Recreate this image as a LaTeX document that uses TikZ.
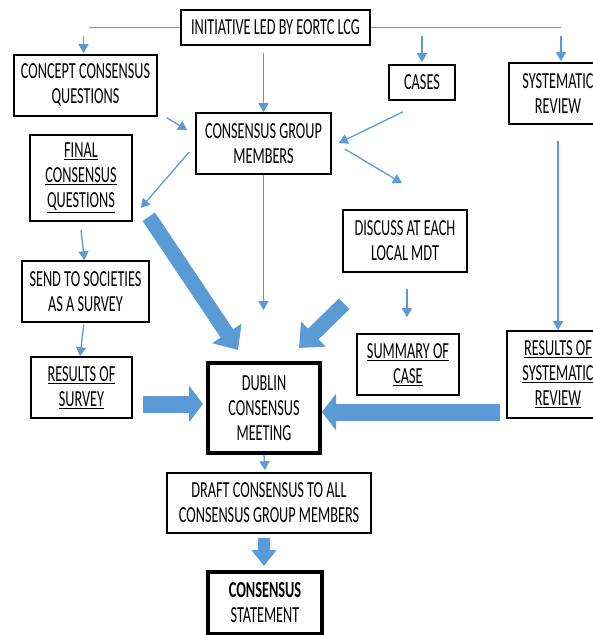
\documentclass[tikz,border=0pt]{standalone}
\usepackage{fontspec}
\setmainfont{Carlito}[FakeStretch=0.62]
\usetikzlibrary{arrows.meta,calc}
\definecolor{arrowblue}{HTML}{5B9BD5}
\begin{document}
\begin{tikzpicture}[x=1pt,y=-1pt,
 box/.style={draw, line width=1.6pt, align=center, inner sep=0pt, font=\fontsize{23}{25}\selectfont},
 heavy/.style={box, line width=4pt},
 thinarr/.style={draw=arrowblue, line width=1.3pt, -{Triangle[length=9pt,width=10pt]}},
 plainline/.style={draw=arrowblue, line width=1.3pt},
 fat/.style={draw=arrowblue, line width=15pt, -{Triangle[length=20pt,width=34pt]}},
 fath/.style={draw=arrowblue, line width=17pt, -{Triangle[length=14pt,width=36pt]}}]
\useasboundingbox (0,0) rectangle (593,635);
\clip (0,0) rectangle (593,635);
\fill[white] (0,0) rectangle (593,635);

\node[box, minimum width=189pt, minimum height=35pt] (init) at (275.5,27.5) {INITIATIVE LED BY EORTC LCG};
\node[box, minimum width=143pt, minimum height=61pt] (concept) at (85.5,85.5) {CONCEPT CONSENSUS\\QUESTIONS};
\node[box, minimum width=66pt, minimum height=35pt] (cases) at (422,82.5) {CASES};
\node[box, minimum width=98pt, minimum height=61pt] (sysrev) at (558,93.5) {SYSTEMATIC\\REVIEW};
\node[box, minimum width=135pt, minimum height=61pt] (cgm) at (263.5,143.5) {CONSENSUS GROUP\\MEMBERS};
\node[box, minimum width=102pt, minimum height=86pt] (final) at (81,178) {\underline{FINAL}\\\underline{CONSENSUS}\\\underline{QUESTIONS}};
\node[box, minimum width=124pt, minimum height=62pt] (discuss) at (405,241) {DISCUSS AT EACH\\LOCAL MDT};
\node[box, minimum width=127pt, minimum height=61pt] (send) at (85.5,291.5) {SEND TO SOCIETIES\\AS A SURVEY};
\node[box, minimum width=101pt, minimum height=61pt] (ressurv) at (81.5,387.5) {\underline{RESULTS OF}\\\underline{SURVEY}};
\node[heavy, minimum width=112pt, minimum height=90pt] (dublin) at (264,408) {DUBLIN\\CONSENSUS\\MEETING};
\node[box, minimum width=102pt, minimum height=61pt] (summary) at (408,364.5) {\underline{SUMMARY OF}\\\underline{CASE}};
\node[box, minimum width=102pt, minimum height=87pt] (ressys) at (558,374.5) {\underline{RESULTS OF}\\\underline{SYSTEMATIC}\\\underline{REVIEW}};
\node[box, minimum width=204pt, minimum height=60pt] (draft) at (269,503) {DRAFT CONSENSUS TO ALL\\CONSENSUS GROUP MEMBERS};
\node[heavy, minimum width=114pt, minimum height=62pt] (statement) at (265,603) {\textbf{CONSENSUS}\\STATEMENT};

% thin connectors
\coordinate (lcorner) at (init.west -| concept.north);
\coordinate (rcorner) at ($(init.east -| sysrev.north)+(3,0)$);
\draw[plainline] (init.west) -- ([shift={(3,0)}]lcorner);
\draw[thinarr] ([shift={(-2,8)}]lcorner) -- ([shift={(-2,-1)}]concept.north);
\draw[plainline] (init.east) -- (rcorner);
\draw[thinarr] ([shift={(0,8)}]rcorner) -- ([shift={(0,-1)}]rcorner |- sysrev.north);
\draw[thinarr] ([shift={(0,8)}]init.east -| cases.north) -- ([shift={(0,-2)}]cases.north);
\draw[thinarr, shorten <=7pt] (init.south -| cgm.north) -- (cgm.north);
\draw[thinarr] ([shift={(9,1)}]concept.south east) -- ([shift={(-8,-13.5)}]cgm.west);
\draw[thinarr] ([shift={(-19,11)}]cases.south) -- ([shift={(7,-0.5)}]cgm.east);
\draw[thinarr] ([shift={(13,5.5)}]cgm.east) -- ([shift={(-3,-26)}]discuss.north);
\draw[thinarr] ([shift={(-6,8.5)}]cgm.west) -- ([shift={(8,30)}]final.east);
\draw[thinarr] (cgm.south) -- ([shift={(-0.5,-51)}]dublin.north);
\draw[thinarr, shorten <=8pt] ([shift={(-1,0)}]final.south) -- ([shift={(-1,0)}]send.north);
\draw[thinarr, shorten <=2pt] ([shift={(-1.5,0)}]send.south) -- ([shift={(-1.5,0)}]ressurv.north);
\draw[thinarr, shorten <=16pt, shorten >=16pt] ([shift={(2,0)}]discuss.south) -- ([shift={(-1,0)}]summary.north);
\draw[thinarr, shorten <=16pt] (sysrev.south) -- (ressys.north);
\draw[thinarr] (dublin.south) -- ([shift={(-4,-2)}]draft.north);

% block arrows
\draw[fat] ([shift={(16,-5)}]final.south east) -- ([shift={(32,-11)}]dublin.north west);
\draw[fat] ([shift={(2,31)}]discuss.south west) -- ([shift={(-23,-13)}]dublin.north east);
\draw[fath] ([shift={(10,16.5)}]ressurv.east) -- ([shift={(-3,-4)}]dublin.west);
\draw[fath] ([shift={(-6,37.5)}]ressys.west) -- ([shift={(0,4)}]dublin.east);
\draw[draw=arrowblue, line width=12pt, -{Triangle[length=16pt,width=24pt]}] ([shift={(-5,4)}]draft.south) -- ([shift={(-1,-4)}]statement.north);
\end{tikzpicture}
\end{document}
